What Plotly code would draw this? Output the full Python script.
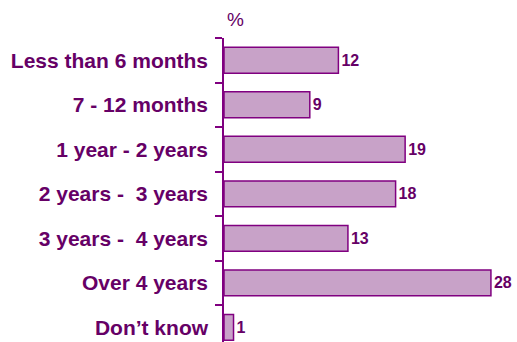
import plotly.graph_objects as go

categories = [
    "Less than 6 months",
    "7 - 12 months",
    "1 year - 2 years",
    "2 years -  3 years",
    "3 years -  4 years",
    "Over 4 years",
    "Don\u2019t know",
]
values = [12, 9, 19, 18, 13, 28, 1]

TEXT = "#660066"
EDGE = "#800080"
FILL = "#C8A2C8"
FONT = "Arial, Liberation Sans"

fig = go.Figure(
    go.Bar(
        x=values,
        y=categories,
        orientation="h",
        width=0.58,
        marker=dict(color=FILL, line=dict(color=EDGE, width=1.5)),
        text=[str(v) for v in values],
        textposition="outside",
        textfont=dict(family=FONT, size=16, color=TEXT),
        texttemplate="<b>%{text}</b>",
        cliponaxis=False,
    )
)

fig.update_layout(
    width=517,
    height=342,
    margin=dict(l=224, r=7, t=38, b=0),
    paper_bgcolor="white",
    plot_bgcolor="white",
    showlegend=False,
    font=dict(family=FONT, color=TEXT),
    xaxis=dict(range=[0, 30], visible=False),
    yaxis=dict(
        type="category",
        categoryorder="array",
        categoryarray=categories,
        range=[6.33, -0.5],
        showline=True,
        linecolor=EDGE,
        linewidth=1.5,
        ticks="outside",
        tickson="boundaries",
        ticklen=7,
        tickcolor=EDGE,
        tickwidth=1.5,
        ticklabelstandoff=10,
        tickfont=dict(family=FONT, size=21, color=TEXT),
        tickprefix="<b>",
        ticksuffix="</b>",
        showgrid=False,
        zeroline=False,
    ),
    annotations=[
        dict(
            text="%",
            xref="paper",
            yref="paper",
            x=0,
            y=1,
            xshift=1,
            yshift=6,
            xanchor="left",
            yanchor="bottom",
            showarrow=False,
            font=dict(family=FONT, size=19, color=TEXT),
        )
    ],
)

fig.write_html("out.html")
